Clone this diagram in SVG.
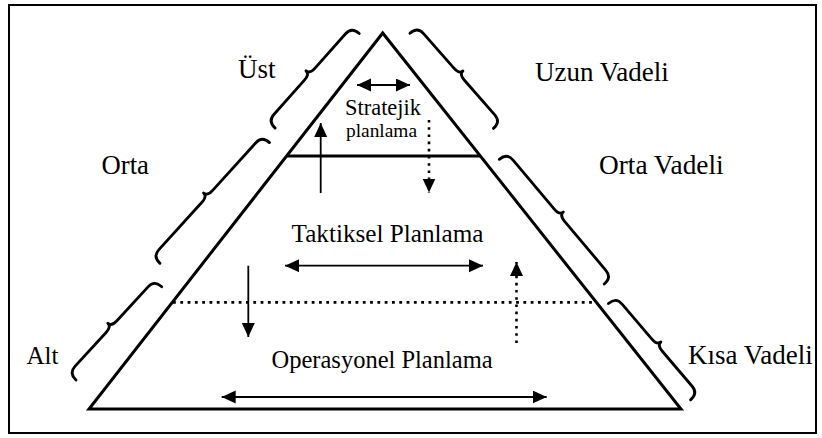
<svg xmlns="http://www.w3.org/2000/svg" xmlns:xlink="http://www.w3.org/1999/xlink" width="822" height="438" viewBox="0 0 822 438">
<style>
  .t { font-family: "Liberation Serif", "Times New Roman", serif; fill: #000; }
  .edge { fill: none; stroke: #000; stroke-width: 3; }
  .brace { fill: none; stroke: #000; stroke-width: 2.8; stroke-linecap: round; stroke-linejoin: round; }
  .arr { fill: none; stroke: #000; stroke-width: 1.8; }
  .dot { fill: none; stroke: #000; stroke-width: 2.8; stroke-dasharray: 2.8 4.5; }
  .darr { fill: none; stroke: #000; stroke-width: 2.6; stroke-dasharray: 2.6 4.6; }
</style>
<defs>
  <marker id="ah" markerUnits="userSpaceOnUse" markerWidth="16" markerHeight="14" refX="14" refY="6.5" orient="auto-start-reverse">
    <path d="M0,0 L14,6.5 L0,13 z" fill="#000"/>
  </marker>
  <path id="braceS" class="brace" d="M-63.3,0 C-63.3,-6 -61,-10 -54,-10 L-8,-10 C-3,-10 0,-12 0,-15 C0,-12 3,-10 8,-10 L54,-10 C61,-10 63.3,-6 63.3,0"/>
  <path id="braceL" class="brace" d="M-81.5,0 C-81.5,-6 -79,-10 -72,-10 L-8,-10 C-3,-10 0,-12 0,-15 C0,-12 3,-10 8,-10 L72,-10 C79,-10 81.5,-6 81.5,0"/>
</defs>

<rect id="frame" x="9" y="5" width="807" height="428" fill="none" stroke="#000" stroke-width="2"/>

<g id="pyramid">
  <polygon class="edge" points="382.7,33 89,409 681,409" stroke-linejoin="miter"/>
  <line x1="286" y1="156" x2="480.5" y2="156" stroke="#000" stroke-width="3"/>
  <line class="dot" x1="173" y1="302.3" x2="594" y2="302.3"/>
</g>

<g id="braces">
  <use xlink:href="#braceS" href="#braceS" transform="translate(317.2,80.8) rotate(-48.4)"/>
  <use xlink:href="#braceL" href="#braceL" transform="translate(214.7,203) rotate(-47.8)"/>
  <use xlink:href="#braceS" href="#braceS" transform="translate(118.85,333.35) rotate(-47.4)"/>
  <use xlink:href="#braceS" href="#braceS" transform="translate(451.65,80.8) rotate(48.75)"/>
  <use xlink:href="#braceL" href="#braceL" transform="translate(551.8,221.65) rotate(49.9)"/>
  <use xlink:href="#braceS" href="#braceS" transform="translate(649.5,351.65) rotate(49.56)"/>
</g>

<g id="connectors">
  <line class="arr" x1="357" y1="85" x2="410" y2="85" marker-start="url(#ah)" marker-end="url(#ah)"/>
  <line class="arr" x1="320.7" y1="193" x2="320.7" y2="123" marker-end="url(#ah)"/>
  <line class="darr" x1="429" y1="120" x2="429" y2="192.5" marker-end="url(#ah)"/>
  <line class="arr" x1="285" y1="265.7" x2="483" y2="265.7" marker-start="url(#ah)" marker-end="url(#ah)"/>
  <line class="arr" x1="248.3" y1="265.7" x2="248.3" y2="337" marker-end="url(#ah)"/>
  <line class="darr" x1="516.5" y1="343" x2="516.5" y2="262" marker-end="url(#ah)"/>
  <line class="arr" x1="221.7" y1="397" x2="546.7" y2="397" marker-start="url(#ah)" marker-end="url(#ah)"/>
</g>

<g id="labels">
  <text class="t" x="238" y="78" font-size="27">Üst</text>
  <text class="t" x="535" y="80.5" font-size="27">Uzun Vadeli</text>
  <text class="t" x="101.5" y="174" font-size="26.7">Orta</text>
  <text class="t" x="599" y="173.5" font-size="27.3">Orta Vadeli</text>
  <text class="t" x="26.5" y="364" font-size="25">Alt</text>
  <text class="t" x="688" y="363.5" font-size="27">Kısa Vadeli</text>
  <text class="t" x="383" y="115" font-size="22.4" text-anchor="middle">Stratejik</text>
  <text class="t" x="381.5" y="136.5" font-size="19.4" text-anchor="middle">planlama</text>
  <text class="t" x="291.5" y="242" font-size="25.2">Taktiksel Planlama</text>
  <text class="t" x="271.5" y="367.5" font-size="24.5">Operasyonel Planlama</text>
</g>
</svg>
